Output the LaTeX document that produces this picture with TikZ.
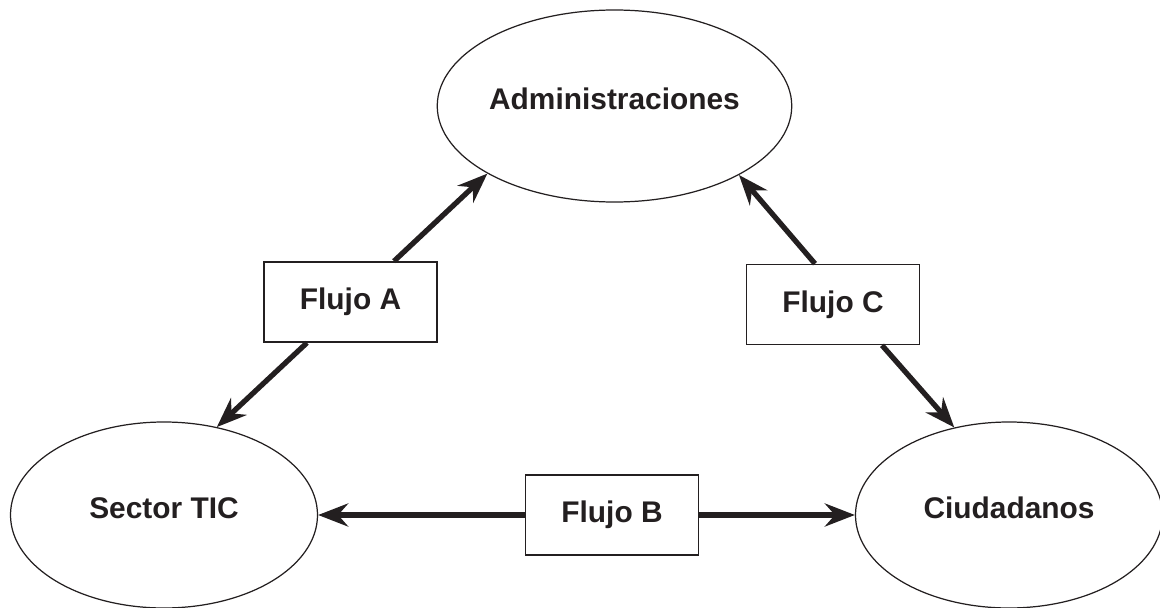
\documentclass[tikz,border=0pt]{standalone}
\usepackage{fontspec}
\setmainfont{Liberation Sans}
\usepackage{xcolor}
\usetikzlibrary{shapes.geometric, arrows.meta}
\definecolor{ink}{HTML}{231F20}

\begin{document}
\begin{tikzpicture}[
    actor/.style={ellipse, draw=ink, line width=0.7pt, minimum width=6.14cm, minimum height=3.72cm, inner sep=0pt, text height=12pt, text depth=8pt, text=ink, font=\fontsize{17}{20}\selectfont\bfseries},
    flujo/.style={rectangle, draw=ink, line width=0.9pt, minimum width=3.46cm, minimum height=1.6cm, text=ink, font=\fontsize{17}{20}\selectfont\bfseries},
    flecha/.style={draw=ink, line width=3pt, -{Stealth[length=0.6cm, width=0.46cm, inset=0.2cm]}}
  ]
  \useasboundingbox (0,0) rectangle (23.2,12.14);
  % los tres actores
  \node[actor, minimum height=3.84cm] (adm) at (12.29,10.02) {Administraciones};
  \node[actor] (sec) at (3.28,1.84) {Sector TIC};
  \node[actor] (ciu) at (20.18,1.84) {Ciudadanos};
  % los flujos
  \node[flujo] (fa) at (7.01,6.10) {Flujo A};
  \node[flujo] (fb) at (12.24,1.84) {Flujo B};
  \node[flujo] (fc) at (16.66,6.05) {Flujo C};
  \draw[flecha] (fa) -- (adm.208);
  \draw[flecha] (fa) -- (sec.59);
  \draw[flecha] (fb.west) -- (sec.east);
  \draw[flecha] (fb.east) -- (ciu.west);
  \draw[flecha] ([xshift=-0.36cm]fc.north) -- (adm.331);
  \draw[flecha] ([xshift=0.98cm]fc.south) -- (ciu.122);
\end{tikzpicture}
\end{document}
